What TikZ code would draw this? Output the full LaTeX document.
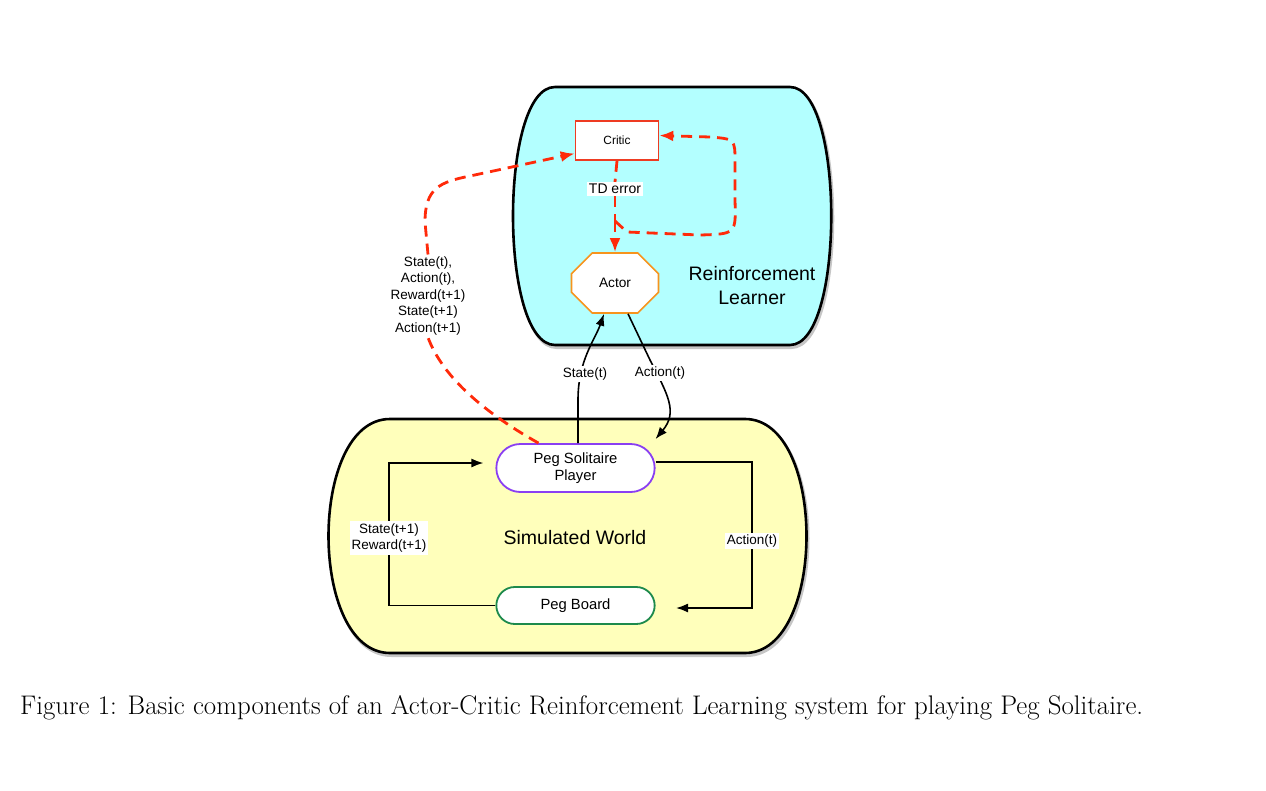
\documentclass[tikz,border=0pt]{standalone}
\usepackage{fontspec}
\newfontfamily\diagfont{Liberation Sans}
\usetikzlibrary{arrows.meta,shapes.misc}
\definecolor{learnercyan}{HTML}{B3FFFF}
\definecolor{worldyellow}{HTML}{FFFFBB}
\definecolor{dashred}{HTML}{FF2A0A}
\definecolor{criticred}{HTML}{EE3B22}
\definecolor{actororange}{HTML}{F7941D}
\definecolor{playerpurple}{HTML}{8A3FF2}
\definecolor{boardgreen}{HTML}{1D8A4C}
\newcommand{\fsz}[2]{\diagfont\fontsize{#1}{#2}\selectfont}

\begin{document}
\begin{tikzpicture}[x=1pt,y=-1pt,
  blob/.style={draw=black,line width=2.6pt,
    preaction={draw=gray!45,line width=3pt,transform canvas={shift={(1.5pt,-2.5pt)}}}},
  lbl/.style={fill=white,inner sep=2pt,align=center,font=\fsz{13.5}{16.5}},
  stadium/.style={rounded rectangle,fill=white,line width=1.8pt,
    minimum width=165pt,align=center,font=\fsz{14.8}{17}},
  conn/.style={line width=1.6pt,-{Latex[length=12pt,width=9pt]}},
  flow/.style={draw=dashred,line width=2.8pt,dash pattern=on 11pt off 7pt},
  redtip/.style={-{Latex[length=14pt,width=11pt]}}]
\useasboundingbox (0,0) rectangle (1266,790);

% the two regions
\path[blob,fill=learnercyan] (555,87) -- (790,87) .. controls (845,87) and (845,345) .. (790,345)
  -- (555,345) .. controls (499,345) and (499,87) .. (555,87) -- cycle;
\path[blob,fill=worldyellow] (390,419) -- (745,419) .. controls (827,419) and (827,653) .. (745,653)
  -- (390,653) .. controls (308,653) and (308,419) .. (390,419) -- cycle;

\node[font=\fsz{19.5}{24},align=center] (learnerlbl) at (752,286) {Reinforcement\\Learner};
\node[font=\fsz{19.5}{24}] (worldlbl) at (575,538) {Simulated World};

% components
\node[draw=criticred,fill=white,line width=1.6pt,minimum width=83pt,minimum height=39pt,
  font=\fsz{11.9}{14}] (critic) at (617,140.5) {Critic};
\node[lbl,font=\fsz{14}{16}] (tderr) at (615,189) {TD error};
\node[chamfered rectangle,chamfered rectangle xsep=25pt,chamfered rectangle ysep=18pt,
  draw=actororange,fill=white,line width=1.6pt,minimum width=87pt,minimum height=60pt,
  inner sep=0pt,font=\fsz{13.7}{16}] (actor) at (615,283) {Actor};
\node[stadium,draw=playerpurple,minimum height=48pt] (player) at (575.5,468) {Peg Solitaire\\Player};
\node[stadium,draw=boardgreen,minimum height=37pt] (board) at (575.5,605.5) {Peg Board};

% world loop
\coordinate (lturn) at (389,463);
\coordinate (rturn) at (752,462);
\coordinate (boardin) at (676,608);
\draw[conn] (board.west) -| (lturn) -- ([xshift=-12pt]lturn -| player.west);
\draw[conn] (rturn -| player.east) -- (rturn) -- (rturn |- boardin) -- (boardin);
\node[lbl] (worldin) at (389,538) {State(t+1)\\Reward(t+1)};
\node[lbl] (worldout) at (752,541) {Action(t)};

% between learner and world
\draw[conn] ([xshift=2.5pt]player.north) -- (578,400) .. controls (578,360) and (595,340) .. ([xshift=-11pt]actor.south);
\draw[conn] ([xshift=13pt]actor.south) -- (650,360) .. controls (668,395) and (678,412) .. ([xshift=80pt,yshift=4pt]player.north);
\node[lbl] (stateup) at (585,374) {State(t)};
\node[lbl] (actiondown) at (660,373) {Action(t)};

% critic signals
\node[lbl] (history) at (428,296) {State(t),\\Action(t),\\Reward(t+1)\\State(t+1)\\Action(t+1)};
\draw[flow] ([xshift=-37pt]player.north) .. controls (480,410) and (442,375) .. (history.south);
\draw[flow,redtip] (history.north) -- (425,222) .. controls (425,188) and (440,182) .. (470,176)
  -- ([yshift=-13pt]critic.west);
\draw[flow] (critic.south) -- (tderr.north);
\coordinate (branch) at (615,221);
\draw[flow] (tderr.south) -- (branch);
\draw[flow,redtip] (branch) -- (actor.north);
\draw[flow,redtip] (branch) -- (627,232) -- (700,235) .. controls (736,234) .. (735,200) -- (735,162)
  .. controls (735,139) .. (710,137) -- ([yshift=5pt]critic.east);

% caption
\node[anchor=base west,inner sep=0pt,font=\fontsize{26.9}{32}\selectfont] (caption) at (20,714)
  {Figure 1: Basic components of an Actor-Critic Reinforcement Learning system for playing Peg Solitaire.};
\end{tikzpicture}
\end{document}
